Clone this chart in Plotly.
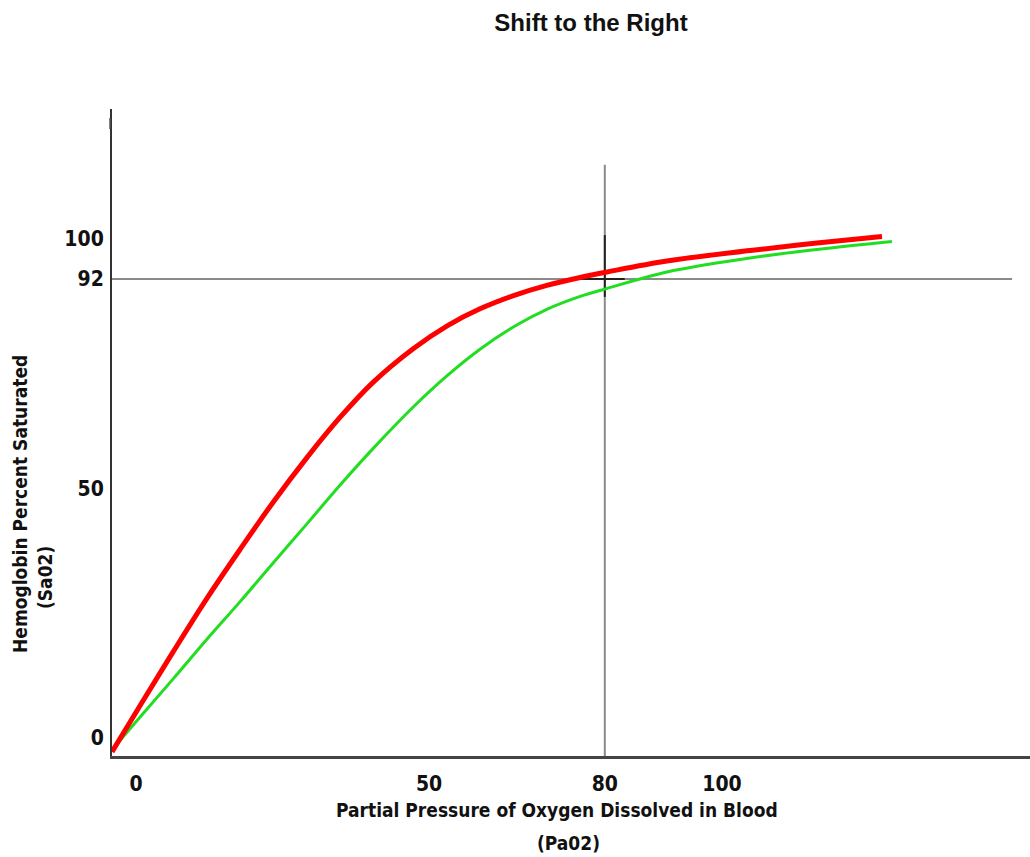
import plotly.graph_objects as go

# ---- data ----
po2_red = [-4.1, 0.7, 6.3, 12.1, 17.8, 23.4, 29.2, 34.8, 40.4, 47.3, 53.1, 58.7, 64.3, 70.1, 75.8, 80.4, 90.6, 104.8, 116.2, 127.3]
sat_red = [-2.9, 6.4, 17.1, 27.9, 37.8, 47.2, 56.2, 64.2, 71.2, 78.0, 82.6, 86.0, 88.6, 90.7, 92.3, 93.4, 95.6, 97.7, 99.2, 100.5]

po2_green = [-4.4, 0.7, 6.3, 12.1, 17.8, 23.4, 29.2, 34.8, 40.4, 47.3, 53.1, 58.7, 64.3, 70.1, 75.8, 80.4, 90.6, 104.8, 116.2, 129.0]
sat_green = [-2.9, 4.1, 11.7, 19.7, 27.3, 35.0, 42.9, 50.6, 57.9, 66.3, 72.6, 77.9, 82.3, 85.9, 88.5, 90.1, 93.4, 96.2, 97.9, 99.5]

x_ticks = [0, 50, 80, 100]
y_ticks = [0, 50, 92, 100]

ref_pao2 = 80
ref_sao2 = 92
ref_v_top = 114.9
ref_h_right = 149.5
cross_v = [88.4, 100.8]
cross_h = [75.3, 83.4]

x_range = [-4.1, 152.56]
y_range = [-3.73, 126.1]

narrow = "Liberation Sans Narrow, DejaVu Sans Condensed, Arial Narrow, sans-serif"

fig = go.Figure()

fig.add_trace(go.Scatter(x=po2_green, y=sat_green, mode="lines",
                         line=dict(color="#22dd22", width=3, shape="spline", smoothing=1.0),
                         showlegend=False, hoverinfo="skip"))
fig.add_trace(go.Scatter(x=po2_red, y=sat_red, mode="lines",
                         line=dict(color="#ff0000", width=5, shape="spline", smoothing=1.0),
                         showlegend=False, hoverinfo="skip"))

# reference lines
fig.add_shape(type="line", x0=ref_pao2, x1=ref_pao2, y0=y_range[0], y1=ref_v_top,
              line=dict(color="#8a8a8a", width=2), layer="below")
fig.add_shape(type="line", x0=x_range[0], x1=ref_h_right, y0=ref_sao2, y1=ref_sao2,
              line=dict(color="#8a8a8a", width=2), layer="below")
# crosshair marks
fig.add_shape(type="line", x0=ref_pao2, x1=ref_pao2, y0=cross_v[0], y1=cross_v[1],
              line=dict(color="#222222", width=2), layer="below")
fig.add_shape(type="line", x0=cross_h[0], x1=cross_h[1], y0=ref_sao2, y1=ref_sao2,
              line=dict(color="#222222", width=2), layer="below")
# small stray tick near the top of the y axis
fig.add_shape(type="line", xref="paper", yref="paper",
              x0=-2 / 918, x1=-2 / 918, y0=(756 - 118) / 647, y1=(756 - 129) / 647,
              line=dict(color="#555555", width=1.5))

fig.update_layout(
    width=1030, height=857,
    margin=dict(l=112, r=0, t=109, b=101),
    paper_bgcolor="white", plot_bgcolor="white",
    title=dict(text="<b>Shift to the Right</b>", x=591 / 1030, xref="container", xanchor="center",
               y=1 - 23 / 857, yref="container", yanchor="middle",
               font=dict(family="Liberation Sans, Arial, sans-serif", size=24, color="#111111")),
    xaxis=dict(range=x_range, tickvals=x_ticks, ticktext=[f"<b>{v}</b>" for v in x_ticks],
               showgrid=False, zeroline=False, showline=True, linecolor="#444444", linewidth=3,
               ticks="", tickfont=dict(family=narrow, size=21, color="#111111"),
               ticklabelstandoff=7, fixedrange=True),
    yaxis=dict(range=y_range, tickvals=y_ticks, ticktext=[f"<b>{v}</b>" for v in y_ticks],
               showgrid=False, zeroline=False, showline=True, linecolor="#333333", linewidth=2,
               ticks="", tickfont=dict(family=narrow, size=21, color="#111111"),
               ticklabelstandoff=2, fixedrange=True),
    annotations=[
        dict(text="<b>Partial Pressure of Oxygen Dissolved in Blood</b>", xref="paper", yref="paper",
             x=(557 - 112) / 918, y=(756 - 810) / 647, xanchor="center", yanchor="middle",
             showarrow=False, font=dict(family=narrow, size=19, color="#111111")),
        dict(text="<b>(Pa02)</b>", xref="paper", yref="paper",
             x=(568 - 112) / 918, y=(756 - 843) / 647, xanchor="center", yanchor="middle",
             showarrow=False, font=dict(family=narrow, size=19, color="#111111")),
        dict(text="<b>Hemoglobin Percent Saturated</b>", xref="paper", yref="paper",
             x=(20 - 112) / 918, y=(756 - 504) / 647, xanchor="center", yanchor="middle",
             textangle=-90, showarrow=False, font=dict(family=narrow, size=19, color="#111111")),
        dict(text="<b>(Sa02)</b>", xref="paper", yref="paper",
             x=(45 - 112) / 918, y=(756 - 578) / 647, xanchor="center", yanchor="middle",
             textangle=-90, showarrow=False, font=dict(family=narrow, size=19, color="#111111")),
    ],
)

fig.write_html("out.html", config={"displayModeBar": False},
               post_script="document.body.style.margin='0';")
